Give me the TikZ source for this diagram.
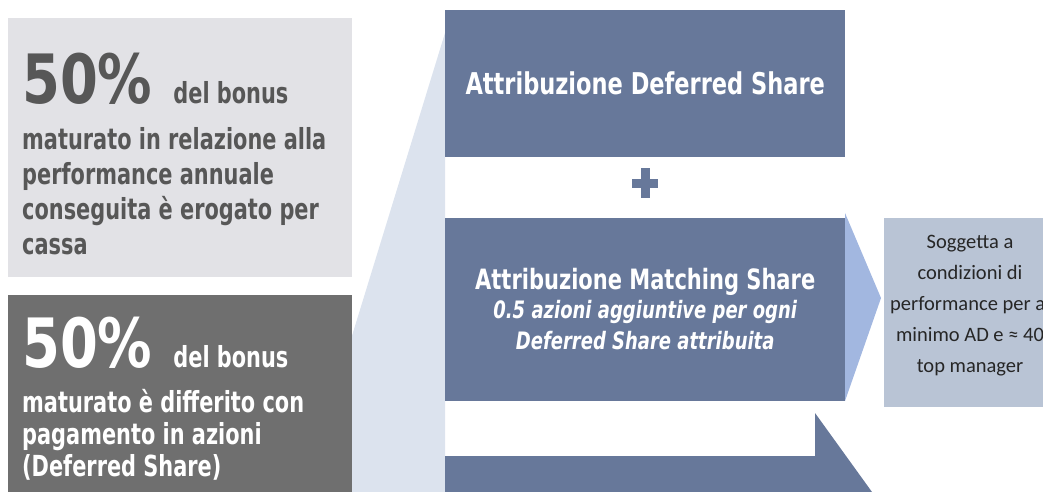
\documentclass[tikz,border=0pt]{standalone}
\usepackage{fontspec}
\newfontfamily\verd[FakeStretch=0.72]{DejaVu Sans}
\newfontfamily\verdbig[FakeStretch=0.8]{DejaVu Sans}
\newfontfamily\verdbox[FakeStretch=0.75]{DejaVu Sans}
\newfontfamily\calib{Carlito}
\usetikzlibrary{positioning}
\definecolor{cassagray}{HTML}{E2E2E6}
\definecolor{cassatext}{HTML}{575757}
\definecolor{azionigray}{HTML}{6F6F6F}
\definecolor{shareblue}{HTML}{67789A}
\definecolor{fanblue}{HTML}{DCE3EE}
\definecolor{chevblue}{HTML}{A2B7E0}
\definecolor{condblue}{HTML}{B9C4D5}
\newcommand\bigpct{{\verdbig\bfseries\fontsize{68}{68}\selectfont 50\%}\hspace{21pt}}
\newcommand\matchit{\itshape\fontsize{24}{33}\selectfont}

\tikzset{
	leftbox/.style={inner sep=0pt, minimum width=344pt, anchor=north west},
	lefttext/.style={inner sep=0pt, anchor=north west, align=left, font=\verd\bfseries\fontsize{29}{35}\selectfont},
	sharebox/.style={fill=shareblue, inner sep=0pt, minimum width=400pt, text=white, align=center, font=\verdbox\bfseries\fontsize{28}{31}\selectfont},
}

\begin{document}
\begin{tikzpicture}[x=1pt,y=-1pt]
	\useasboundingbox (0,0) rectangle (1043,492);
	%% fan behind the share boxes
	\fill[fanblue] (445,33) -- (304,492) -- (445,492) -- cycle;
	%% left boxes
	\node[leftbox, fill=cassagray, minimum height=259pt] (cassa) at (8,18) {};
	\node[leftbox, fill=azionigray, minimum height=200pt] (azioni) at (8,295) {};
	\node[lefttext, text=cassatext] (cassatxt) at (22,53)
		{\bigpct del bonus\\[11pt]
		maturato in relazione alla\\
		performance annuale\\
		conseguita è erogato per\\
		cassa};
	\node[lefttext, text=white, font=\verd\bfseries\fontsize{29}{32}\selectfont] (azionitxt) at (22,317)
		{\bigpct del bonus\\[13pt]
		maturato è differito con\\
		pagamento in azioni\\
		(Deferred Share)};
	%% chevron and bottom arrow
	\fill[chevblue] (845,213) -- (881,298) -- (845,401) -- cycle;
	\fill[shareblue] (445,492) -- (445,456) -- (815,456) -- (815,413) -- (872,492) -- cycle;
	%% share boxes
	\node[sharebox, minimum height=147pt, anchor=north west, font=\verdbox\bfseries\fontsize{30}{31}\selectfont] (deferred) at (445,10) {Attribuzione Deferred Share};
	\node[sharebox, minimum height=183pt, below=60pt of deferred] (matching)
		{Attribuzione Matching Share\\[-2pt]
		\matchit 0.5 azioni aggiuntive per ogni\\
		\matchit Deferred Share attribuita};
	\coordinate (plus) at (645,183);
	\fill[shareblue] ([xshift=-13pt,yshift=-4.5pt]plus) rectangle ([xshift=13pt,yshift=4.5pt]plus);
	\fill[shareblue] ([xshift=-4.5pt,yshift=-15pt]plus) rectangle ([xshift=4.5pt,yshift=15pt]plus);
	%% condition box
	\node[fill=condblue, inner sep=0pt, minimum width=180pt, minimum height=189pt, anchor=north west] (cond) at (884,218) {};
	\node[align=center, inner sep=0pt, text=black!85, font=\calib\fontsize{20.5}{31}\selectfont] (condtxt) at (970,306)
		{Soggetta a\\
		condizioni di\\
		performance per al\\
		minimo AD e ≈ 40\\
		top manager};
\end{tikzpicture}
\end{document}
